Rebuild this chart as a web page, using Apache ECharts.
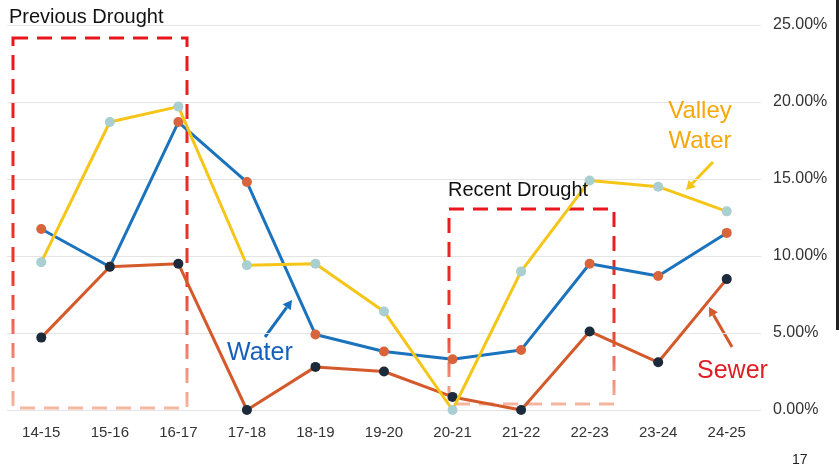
<!DOCTYPE html>
<html>
<head>
<meta charset="utf-8">
<script src="https://cdn.jsdelivr.net/npm/echarts@6/dist/echarts.min.js"></script>
<style>
  html, body { margin: 0; padding: 0; background: #fff; }
  #chart { width: 839px; height: 470px; }
</style>
</head>
<body>
<div id="chart"></div>
<script>
// fiscal years
const years = ['14-15', '15-16', '16-17', '17-18', '18-19', '19-20', '20-21', '21-22', '22-23', '23-24', '24-25']
// rate increase (%)
const water = [11.75, 9.3, 18.7, 14.8, 4.9, 3.8, 3.3, 3.9, 9.5, 8.7, 11.5]
const sewer = [4.7, 9.3, 9.5, 0, 2.8, 2.5, 0.85, 0, 5.1, 3.1, 8.5]
const valleyWater = [9.6, 18.7, 19.7, 9.4, 9.5, 6.4, 0, 9.0, 14.9, 14.5, 12.9]
const yTicks = [0, 5, 10, 15, 20, 25]

const FONT = '"Liberation Sans", Arial, sans-serif'

const myChart = echarts.init(document.getElementById('chart'))

// dashed box that fades from red to peach toward the bottom (scanned look)
const droughtBox = (x, y, w, h, fadeAt) => ({
    type: 'rect',
    shape: { x, y, width: w, height: h },
    style: {
        fill: 'none',
        stroke: new echarts.graphic.LinearGradient(0, 0, 0, 1, [
            { offset: 0, color: '#e8161c' },
            { offset: fadeAt, color: '#ea3a2a' },
            { offset: 1, color: '#f5b9a2' }
        ]),
        lineWidth: 3,
        lineDash: [15, 9]
    },
    z: 1
})

// simple arrow from tail to tip
const arrow = (x1, y1, x2, y2, color) => {
    const ang = Math.atan2(y2 - y1, x2 - x1)
    const len = 9, wid = 5
    const bx = x2 - len * Math.cos(ang), by = y2 - len * Math.sin(ang)
    const px = -Math.sin(ang) * wid, py = Math.cos(ang) * wid
    return {
        type: 'group',
        children: [
            { type: 'line', shape: { x1, y1, x2: bx, y2: by }, style: { stroke: color, lineWidth: 3 } },
            { type: 'polygon', shape: { points: [[x2, y2], [bx + px, by + py], [bx - px, by - py]] }, style: { fill: color } }
        ]
    }
}

const text = (x, y, str, size, color, align) => ({
    type: 'text',
    x, y,
    style: {
        text: str,
        fontFamily: FONT,
        fontSize: size,
        fill: color,
        align: align || 'left',
        lineHeight: size * 1.22
    },
    z: 10
})

const option = {
    animation: false,
    backgroundColor: '#fff',
    grid: { left: 7, right: 78, top: 25, bottom: 60 },
    xAxis: {
        type: 'category',
        data: years,
        boundaryGap: true,
        axisLine: { show: false },
        axisTick: { show: false },
        axisLabel: { color: '#333', fontFamily: FONT, fontSize: 15, margin: 15 }
    },
    yAxis: {
        type: 'value',
        position: 'right',
        min: yTicks[0],
        max: yTicks[yTicks.length - 1],
        interval: 5,
        axisLine: { show: false },
        axisTick: { show: false },
        axisLabel: {
            color: '#333',
            fontFamily: FONT,
            fontSize: 16,
            margin: 12,
            formatter: v => v.toFixed(2) + '%'
        },
        splitLine: { lineStyle: { color: '#e4e4e4', width: 1 } }
    },
    series: [
        {
            name: 'Water',
            type: 'line',
            data: water,
            symbol: 'circle',
            symbolSize: 10,
            lineStyle: { color: '#1b73bd', width: 3 },
            itemStyle: { color: '#d8643c' },
            z: 3
        },
        {
            name: 'Sewer',
            type: 'line',
            data: sewer,
            symbol: 'circle',
            symbolSize: 10,
            lineStyle: { color: '#d4592b', width: 3 },
            itemStyle: { color: '#1c2b3c' },
            z: 4
        },
        {
            name: 'Valley Water',
            type: 'line',
            data: valleyWater,
            symbol: 'circle',
            symbolSize: 10,
            lineStyle: { color: '#f5c518', width: 3 },
            itemStyle: { color: '#a9cfd0' },
            z: 5
        }
    ],
    graphic: [
        droughtBox(13, 38, 174, 370, 0.65),
        droughtBox(449, 209, 165, 195, 0.6),
        text(9, 5, 'Previous Drought', 20, '#111'),
        text(448, 178, 'Recent Drought', 20, '#111'),
        text(700, 97, 'Valley\nWater', 24, '#f5a80a', 'center'),
        text(227, 338, 'Water', 25, '#1560b8'),
        text(697, 356, 'Sewer', 25, '#e01e24'),
        text(792, 452, '17', 14, '#222'),
        arrow(713, 162, 686, 190, '#f5c518'),
        arrow(265, 337, 292, 300, '#1b6ebb'),
        arrow(732, 347, 709, 307, '#d4592b'),
        { type: 'rect', shape: { x: 836, y: 0, width: 3, height: 330 }, style: { fill: '#222' } }
    ]
}

option && myChart.setOption(option)
</script>
</body>
</html>
